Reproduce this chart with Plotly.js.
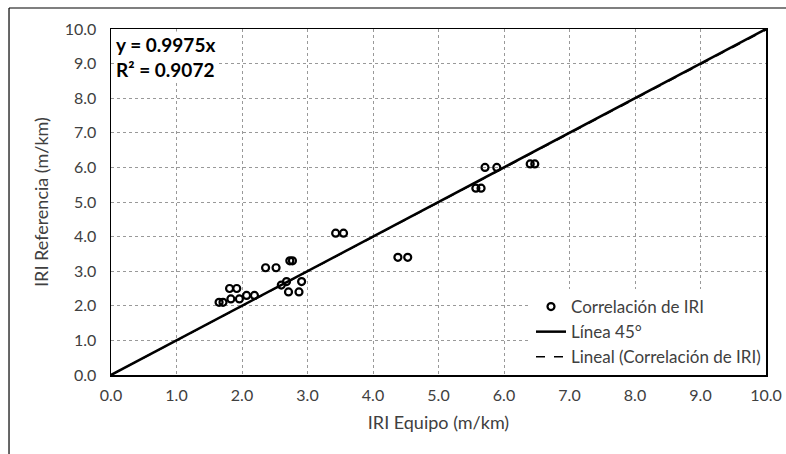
<!DOCTYPE html>
<html>
<head>
<meta charset="utf-8">
<script src="https://cdn.plot.ly/plotly-3.0.1.min.js"></script>
<style>html,body{margin:0;padding:0;background:#fff;}#chart{width:786px;height:454px;}</style>
</head>
<body>
<div id="chart"></div>
<script>
const iriEquipo = [1.65,1.71,1.83,1.96,2.07,2.19,1.81,1.92,2.36,2.52,2.73,2.77,2.60,2.68,2.71,2.87,2.91,3.43,3.55,4.38,4.53,5.57,5.65,5.71,5.89,6.40,6.47];
const iriReferencia = [2.1,2.1,2.2,2.2,2.3,2.3,2.5,2.5,3.1,3.1,3.3,3.3,2.6,2.7,2.4,2.4,2.7,4.1,4.1,3.4,3.4,5.4,5.4,6.0,6.0,6.1,6.1];
const line45X = [0, 10];
const line45Y = [0, 10];
const slope = 0.9975;
const r2 = 0.9072;
const tickVals = [0,1,2,3,4,5,6,7,8,9,10];
const tickText = ["0.0","1.0","2.0","3.0","4.0","5.0","6.0","7.0","8.0","9.0","10.0"];
const trendX = [0, 10];
const trendY = trendX.map(v => v * slope);

const font = "Lato, 'Open Sans', sans-serif";

const traces = [
  {x: iriEquipo, y: iriReferencia, mode: 'markers', type: 'scatter', name: 'Correlación de IRI',
   marker: {symbol: 'circle-open', size: 7, color: '#000', line: {width: 2.2, color: '#000'}}},
  {x: line45X, y: line45Y, mode: 'lines', type: 'scatter', name: 'Línea 45°',
   line: {color: '#000', width: 2.5}},
  {x: trendX, y: trendY, mode: 'lines', type: 'scatter', name: 'Lineal (Correlación de IRI)',
   line: {color: '#000', width: 1.5, dash: 'dash'}}
];

const axisCommon = {
  range: [0, 10], tickvals: tickVals, ticktext: tickText,
  showgrid: true, gridcolor: '#999', griddash: 'dot', gridwidth: 1,
  zeroline: false, showline: true, linecolor: '#000', linewidth: 1.5, mirror: true,
  ticks: '', tickfont: {family: font, size: 16, color: '#404040'}, fixedrange: true
};

const layout = {
  width: 786, height: 454,
  margin: {l: 111, r: 20, t: 29, b: 79},
  paper_bgcolor: '#fff', plot_bgcolor: '#fff',
  showlegend: true,
  legend: {x: 1, xanchor: 'right', y: 0, yanchor: 'bottom', bgcolor: '#fff', borderwidth: 0,
           font: {family: font, size: 17, color: '#404040'}, tracegroupgap: 0},
  xaxis: Object.assign({}, axisCommon, {
    ticklabelstandoff: 5,
    title: {text: 'IRI Equipo (m/km)', font: {family: font, size: 18, color: '#404040'}, standoff: 13}
  }),
  yaxis: Object.assign({}, axisCommon, {
    ticklabelstandoff: 10,
    title: {text: 'IRI Referencia (m/km)', font: {family: font, size: 18, color: '#404040'}, standoff: 11}
  }),
  annotations: [
    {xref: 'paper', yref: 'paper', x: 0.004, y: 0.995, xanchor: 'left', yanchor: 'top', align: 'left',
     text: 'y = ' + slope.toFixed(4) + 'x<br>R² = ' + r2.toFixed(4), showarrow: false,
     bgcolor: '#fff', font: {family: font, size: 19, color: '#000', weight: 'bold'}}
  ],
  shapes: [
    {type: 'line', xref: 'paper', yref: 'paper', x0: -0.1557, x1: -0.1557, y0: 1.0607, y1: -0.23, line: {color: '#000', width: 1.2}},
    {type: 'line', xref: 'paper', yref: 'paper', x0: -0.1557, x1: 1.04, y0: 1.0607, y1: 1.0607, line: {color: '#000', width: 1.2}}
  ]
};

Plotly.newPlot('chart', traces, layout, {displayModeBar: false, staticPlot: true});
</script>
</body>
</html>
